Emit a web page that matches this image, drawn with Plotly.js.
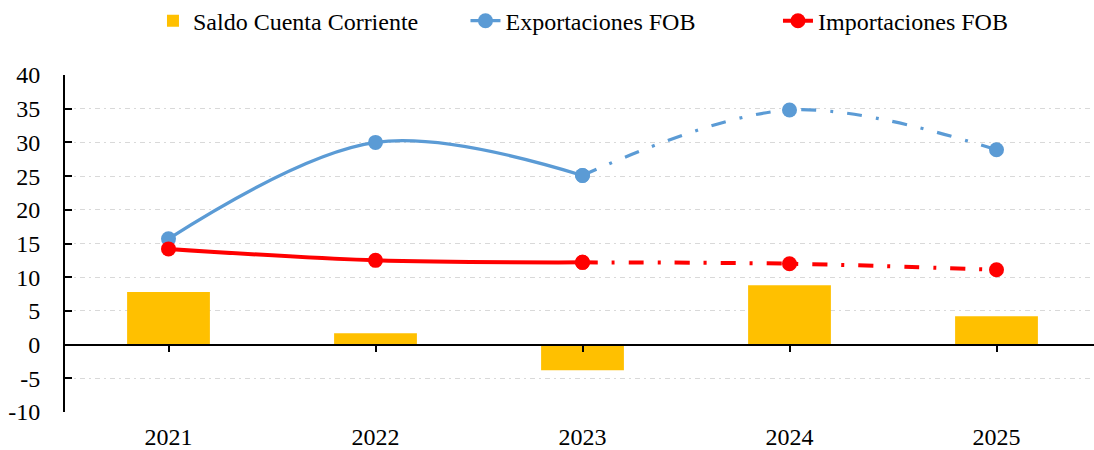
<!DOCTYPE html>
<html>
<head>
<meta charset="utf-8">
<script src="https://cdn.plot.ly/plotly-3.0.1.min.js"></script>
<style>html,body{margin:0;padding:0;background:#fff;}#chart{width:1094px;height:450px;}</style>
</head>
<body>
<div id="chart"></div>
<script>
const years = ['2021', '2022', '2023', '2024', '2025'];
const saldo = [7.8, 1.7, -3.8, 8.8, 4.2];
const exportaciones = [15.7, 30.0, 25.1, 34.8, 28.9];
const importaciones = [14.2, 12.5, 12.2, 12.0, 11.1];
const yTickVals = [-10, -5, 0, 5, 10, 15, 20, 25, 30, 35, 40];
const yTickText = ['-10', '-5', '0', '5', '10', '15', '20', '25', '30', '35', '40'];
const lastObserved = 2; // index of 2023: solid up to here, dash-dot after

const FONT = 'Times New Roman, Liberation Serif, serif';
const FS = 24;
const BLUE = '#5B9BD5', RED = '#FF0000', GOLD = '#FFC000';
const DASH = '15px,14px,3px,14px';

function lineTraces(name, vals, color, width) {
  const solid = {
    type: 'scatter', mode: 'lines+markers', name: name, legendgroup: name,
    x: years.slice(0, lastObserved + 1), y: vals.slice(0, lastObserved + 1),
    line: {color: color, width: width, shape: 'spline', smoothing: 1},
    marker: {color: color, size: 15}, hoverinfo: 'x+y'
  };
  const dashed = {
    type: 'scatter', mode: 'lines+markers', name: name, legendgroup: name, showlegend: false,
    x: years.slice(lastObserved), y: vals.slice(lastObserved),
    line: {color: color, width: width, shape: 'spline', smoothing: 1, dash: DASH},
    marker: {color: color, size: 15}, hoverinfo: 'x+y'
  };
  return [solid, dashed];
}

const traces = [
  {type: 'bar', name: 'Saldo Cuenta Corriente', x: years, y: saldo, width: 0.4,
   marker: {color: GOLD}},
  ...lineTraces('Exportaciones FOB', exportaciones, BLUE, 3.2),
  ...lineTraces('Importaciones FOB', importaciones, RED, 4),
  {type: 'scatter', mode: 'none', x: years, y: saldo, xaxis: 'x2', showlegend: false, hoverinfo: 'skip'}
];

const xr = [-0.5, 4.471];
const layout = {
  width: 1094, height: 450,
  margin: {l: 65, r: 0, t: 75, b: 38, pad: 0, autoexpand: false},
  paper_bgcolor: '#fff', plot_bgcolor: '#fff',
  font: {family: FONT, size: FS, color: '#000'},
  showlegend: true,
  legend: {orientation: 'h', x: 0.0855, xanchor: 'left', y: 1.16, yanchor: 'middle',
           entrywidth: 267.5, entrywidthmode: 'pixels', traceorder: 'normal',
           font: {family: FONT, size: FS, color: '#000'}},
  xaxis: {type: 'category', categoryorder: 'array', categoryarray: years, range: xr,
          showline: false, showgrid: false, zeroline: false, ticks: '',
          tickfont: {family: FONT, size: FS, color: '#000'}, ticklabelstandoff: 8},
  xaxis2: {type: 'category', categoryorder: 'array', categoryarray: years, range: xr,
           overlaying: 'x', anchor: 'free', position: 0.2, side: 'bottom',
           showline: true, linecolor: '#000', linewidth: 2, showgrid: false, zeroline: false,
           ticks: 'outside', ticklen: 6, tickwidth: 2, tickcolor: '#000', showticklabels: false},
  yaxis: {range: [-10, 40], tickvals: yTickVals, ticktext: yTickText,
          showline: true, linecolor: '#000', linewidth: 2,
          ticks: 'inside', ticklen: 7, tickwidth: 2, tickcolor: '#000',
          showgrid: true, gridcolor: '#d9d9d9', gridwidth: 1, griddash: '5px,4px,2px,4px',
          zeroline: false, tickfont: {family: FONT, size: FS, color: '#000'}, ticklabelstandoff: 18}
};

Plotly.newPlot('chart', traces, layout, {displayModeBar: false, staticPlot: true});
</script>
</body>
</html>
